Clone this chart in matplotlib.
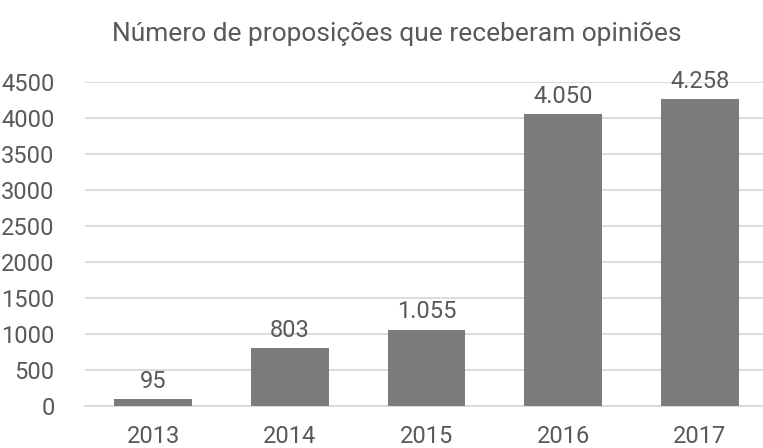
import matplotlib
matplotlib.use("Agg")
import matplotlib.pyplot as plt

anos = ["2013", "2014", "2015", "2016", "2017"]
valores = [95, 803, 1055, 4050, 4258]
rotulos = ["95", "803", "1.055", "4.050", "4.258"]

plt.rcParams['font.family'] = ['Liberation Sans Narrow', 'Roboto', 'DejaVu Sans']
cor_texto = "#595959"

fig = plt.figure(figsize=(7.63, 4.48), dpi=100)
ax = fig.add_axes([0.1115, 0.094, 0.895, 0.723])

x = range(len(anos))
barras = ax.bar(x, valores, width=0.57, color="#7b7b7b", zorder=3)
for b, r in zip(barras, rotulos):
    ax.text(b.get_x() + b.get_width() / 2, b.get_height() + 90, r,
            ha="center", va="bottom", fontsize=17, color=cor_texto)

ax.set_xlim(-0.5, 4.5)
ax.set_ylim(0, 4500)
ax.set_yticks(range(0, 4501, 500))
ax.set_xticks(list(x))
ax.set_xticklabels(anos)
ax.tick_params(axis="both", length=0, labelsize=17, labelcolor=cor_texto)
ax.tick_params(axis="y", pad=22)
ax.tick_params(axis="x", pad=14)
ax.grid(axis="y", color="#d9d9d9", linewidth=1.3, zorder=0)
for s in ["top", "right", "left"]:
    ax.spines[s].set_visible(False)
ax.spines["bottom"].set_color("#d9d9d9")
ax.spines["bottom"].set_linewidth(1.3)

fig.text(0.52, 0.925, "Número de proposições que receberam opiniões",
         ha="center", va="center", fontsize=19, color=cor_texto)

fig.savefig("out.png", dpi=100)
